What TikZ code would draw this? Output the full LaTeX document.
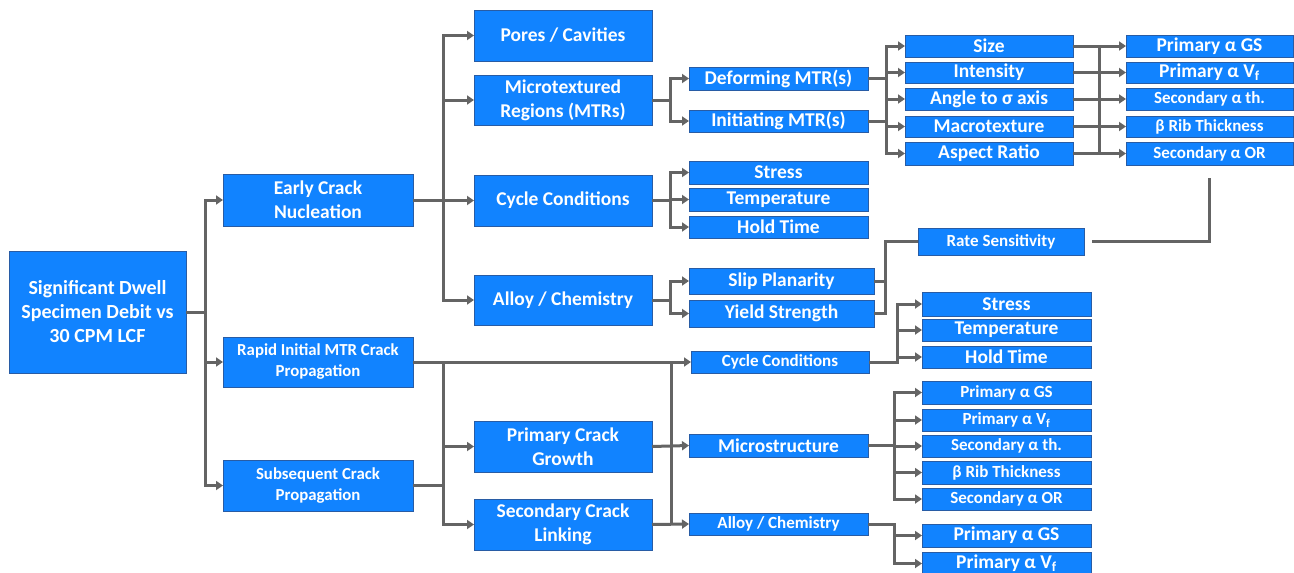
\documentclass[tikz,border=0pt]{standalone}
\usepackage{fontspec}
\setmainfont{Carlito}
\usetikzlibrary{arrows.meta}
\definecolor{boxblue}{RGB}{17,131,255}
\definecolor{boxedge}{RGB}{40,92,165}
\definecolor{linkgray}{RGB}{100,100,100}
\tikzset{
  box/.style={draw=boxedge, fill=boxblue, line width=1pt, text=white,
    align=center, inner sep=0pt, outer sep=0pt},
  L/.style={font=\bfseries\fontsize{19.5}{24}\selectfont},
  M/.style={font=\bfseries\fontsize{16.8}{21}\selectfont},
  S/.style={font=\bfseries\fontsize{17}{21}\selectfont},
  link/.style={draw=linkgray, line width=3pt},
  feed/.style={link, -{Triangle[length=7pt,width=9pt]}},
}
% \bx[style]{name}{x1}{y1}{x2}{y2}{text}
\newcommand\bx[7][L]{%
  \node[box,#1, minimum width={#5-#3}, minimum height={#6-#4}]
    (#2) at ({(#3+#5)/2},{(#4+#6)/2}) {#7};}
\newcommand\vf{V\textsubscript{f}}
\begin{document}
\begin{tikzpicture}[x=1pt,y=-1pt]
\fill[white] (0,0) rectangle (1294,573);
\useasboundingbox (0,0) rectangle (1294,573);

% root and first level
\bx[font=\bfseries\fontsize{20}{24}\selectfont]{root}{9}{251}{186}{373}{Significant Dwell\\Specimen Debit vs\\30 CPM LCF}
\bx{ecn}{223}{174}{413}{226}{Early Crack\\Nucleation}
\bx[M]{rim}{223}{337}{413}{387}{Rapid Initial MTR Crack\\Propagation}
\bx[M]{scp}{223}{460}{413}{511}{Subsequent Crack\\Propagation}

% nucleation branch
\bx{pores}{474}{10}{652}{61}{Pores / Cavities}
\bx{mtr}{474}{75}{652}{125}{Microtextured\\Regions (MTRs)}
\bx{cyca}{474}{175}{652}{226}{Cycle Conditions}
\bx{alla}{474}{275}{652}{325}{Alloy / Chemistry}

\bx{def}{689}{67}{868}{90}{Deforming MTR(s)}
\bx{ini}{689}{110}{868}{132}{Initiating MTR(s)}
\bx{stra}{689}{161}{868}{184}{Stress}
\bx{tmpa}{689}{188}{868}{211}{Temperature}
\bx{hlda}{689}{216}{868}{238}{Hold Time}
\bx{slip}{689}{268}{874}{294}{Slip Planarity}
\bx{yld}{689}{300}{874}{327}{Yield Strength}

\bx{size}{905}{35}{1073}{57}{Size}
\bx{inten}{905}{62}{1073}{83}{Intensity}
\bx{angle}{905}{88}{1073}{110}{Angle to σ axis}
\bx{macro}{905}{116}{1073}{137}{Macrotexture}
\bx{aspect}{905}{142}{1073}{165}{Aspect Ratio}

\bx{pgsa}{1126}{35}{1293}{57}{Primary α GS}
\bx{pvfa}{1126}{62}{1293}{83}{Primary α \vf}
\bx[S]{stha}{1126}{88}{1293}{110}{Secondary α th.}
\bx[S]{riba}{1126}{116}{1293}{137}{β Rib Thickness}
\bx[S]{sora}{1126}{142}{1293}{165}{Secondary α OR}

\bx[S]{rate}{918}{228}{1084}{255}{Rate Sensitivity}

% propagation branch
\bx[S]{cycb}{691}{351}{869}{373}{Cycle Conditions}
\bx{strb}{922}{292}{1091}{316}{Stress}
\bx{tmpb}{922}{319}{1091}{341}{Temperature}
\bx{hldb}{922}{346}{1091}{368}{Hold Time}

\bx{pcg}{474}{421}{652}{472}{Primary Crack\\Growth}
\bx{scl}{474}{499}{652}{550}{Secondary Crack\\Linking}
\bx{micro}{689}{434}{868}{457}{Microstructure}
\bx[S]{allb}{689}{513}{868}{535}{Alloy / Chemistry}

\bx[S]{pgsb}{922}{381}{1091}{404}{Primary α GS}
\bx[S]{pvfb}{922}{409}{1091}{431}{Primary α \vf}
\bx[S]{sthb}{922}{435}{1091}{457}{Secondary α th.}
\bx[S]{ribb}{922}{461}{1091}{484}{β Rib Thickness}
\bx[S]{sorb}{922}{488}{1091}{510}{Secondary α OR}
\bx{pgsc}{922}{524}{1091}{547}{Primary α GS}
\bx{pvfc}{922}{552}{1091}{575}{Primary α \vf}

% trunk positions
\coordinate (t0) at (205,0);
\coordinate (t1) at (443,0);
\coordinate (t2) at (670,0);
\coordinate (t3) at (886,0);
\coordinate (t4) at (1099,0);
\coordinate (t5) at (885,0);
\coordinate (t6) at (897,0);
\coordinate (t7) at (894,0);
\coordinate (t8) at (671,0);

% root
\foreach \n in {ecn,rim,scp}
  \draw[feed] (root.east) -- (root.east -| t0) |- (\n.west);

% early crack nucleation
\foreach \n in {pores,mtr,cyca,alla}
  \draw[feed] (ecn.east) -- (ecn.east -| t1) |- (\n.west);
\foreach \n in {def,ini}
  \draw[feed] (mtr.east) -- (mtr.east -| t2) |- (\n.west);
\foreach \n in {stra,tmpa,hlda}
  \draw[feed] (cyca.east) -- (cyca.east -| t2) |- (\n.west);
\foreach \n in {slip,yld}
  \draw[feed] (alla.east) -- (alla.east -| t2) |- (\n.west);

% MTR attributes
\foreach \n in {size,inten,angle,macro,aspect}
  \draw[feed] (def.east) -- (def.east -| t3) |- (\n.west);
\draw[link] (ini.east) -- (ini.east -| t3);
\draw[link] (size.east -| t4) -- (aspect.east -| t4);
\draw[feed] (size.east) -- (pgsa.west);
\draw[feed] (inten.east) -- (pvfa.west);
\draw[feed] (angle.east) -- (stha.west);
\draw[feed] (macro.east) -- (riba.west);
\draw[feed] (aspect.east) -- (sora.west);

% rate sensitivity
\draw[link] (slip.east) -- (slip.east -| t5);
\draw[link] (yld.east) -- (yld.east -| t5) |- (rate.west);
\draw[link] ([xshift=8pt]rate.east) -| ([yshift=-13pt]sora.south);

% rapid initial MTR crack propagation
\draw[feed] (rim.east) -- (cycb.west);
\foreach \n in {pcg,scl}
  \draw[feed] (rim.east -| t1) |- (\n.west);
\draw[link] (scp.east) -- (scp.east -| t1);
\draw[link] (cycb.west -| t8) -- (allb.west -| t8);
\draw[feed] (pcg.east) -- (micro.west);
\draw[feed] (scl.east) -- (allb.west);
\foreach \n in {strb,tmpb,hldb}
  \draw[feed] (cycb.east) -- (cycb.east -| t6) |- (\n.west);
\foreach \n in {pgsb,pvfb,sthb,ribb,sorb}
  \draw[feed] (micro.east) -- (micro.east -| t7) |- (\n.west);
\foreach \n in {pgsc,pvfc}
  \draw[feed] (allb.east) -- (allb.east -| t7) |- (\n.west);
\end{tikzpicture}
\end{document}
